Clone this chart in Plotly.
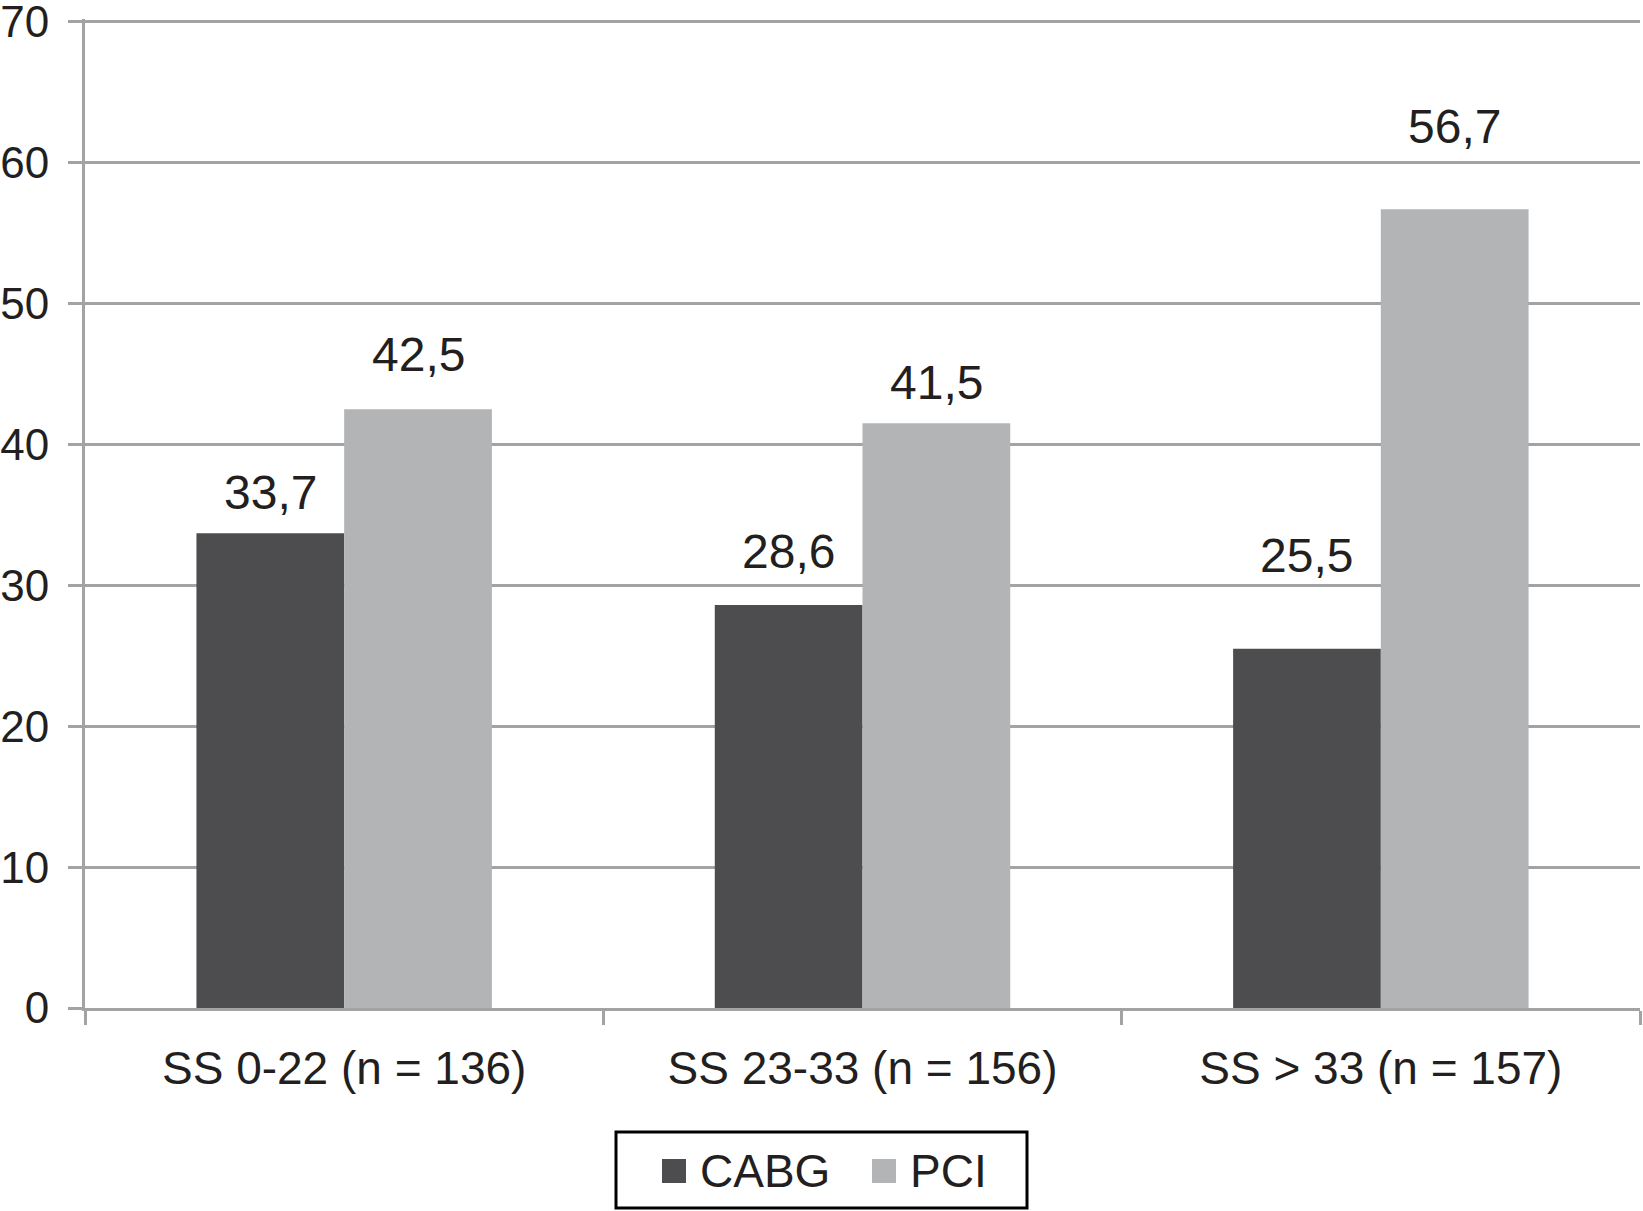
import plotly.graph_objects as go

# ---- data ----
categories = ["SS 0-22 (n = 136)", "SS 23-33 (n = 156)", "SS > 33 (n = 157)"]
cabg_values = [33.7, 28.6, 25.5]
pci_values = [42.5, 41.5, 56.7]
series_names = ["CABG", "PCI"]
y_tick_values = [0, 10, 20, 30, 40, 50, 60, 70]

# ---- style ----
W, H = 1643, 1211
Y_TOP = 70.2                      # a hair above the last tick so its gridline is kept
PX_PER_UNIT = 986 / 70            # vertical scale of the original
PLOT_BOTTOM = 1008
ML, MR = 85, 3
MB = H - PLOT_BOTTOM
MT = round(PLOT_BOTTOM - Y_TOP * PX_PER_UNIT)
FONT = "Liberation Sans, Arial, Helvetica, sans-serif"
TEXT = "#231f20"
GRID = "#a3a3a3"
COL_CABG = "#4d4d4f"
COL_PCI = "#b3b4b6"
BARGAP = 0.43
# pixel lift of each value label above its bar (label placement as in original)
lift_cabg = [23, 36, 76]
lift_pci = [37, 23, 65]

plot_w = W - ML - MR
plot_h = H - MT - MB
bar_px = (1 - BARGAP) * plot_w / len(categories) / 2


def px_x(p):
    return (p - ML) / plot_w


def px_y(p):
    return (H - MB - p) / plot_h


def fmt(v):
    return f"{v:.1f}".replace(".", ",")


fig = go.Figure()
fig.add_trace(go.Bar(x=categories, y=cabg_values, name=series_names[0],
                     marker=dict(color=COL_CABG, line=dict(width=0)), showlegend=False))
fig.add_trace(go.Bar(x=categories, y=pci_values, name=series_names[1],
                     marker=dict(color=COL_PCI, line=dict(width=0)), showlegend=False))

annotations = []
for vals, lifts, shift in ((cabg_values, lift_cabg, -bar_px / 2),
                           (pci_values, lift_pci, bar_px / 2)):
    for c, v, lf in zip(categories, vals, lifts):
        annotations.append(dict(x=c, y=v, xref="x", yref="y", text=fmt(v),
                                showarrow=False, xshift=shift, yshift=lf - 11,
                                yanchor="bottom", xanchor="center",
                                font=dict(family=FONT, size=48, color=TEXT)))

# ---- legend (drawn box with squares and names) ----
box = (616, 1132, 1027, 1208)
shapes = [dict(type="rect", xref="paper", yref="paper",
               x0=px_x(box[0]), x1=px_x(box[2]), y0=px_y(box[3]), y1=px_y(box[1]),
               line=dict(color="black", width=3), fillcolor="white")]
legend_items = [(series_names[0], COL_CABG, 662), (series_names[1], COL_PCI, 872)]
for name, col, sx in legend_items:
    shapes.append(dict(type="rect", xref="paper", yref="paper",
                       x0=px_x(sx), x1=px_x(sx + 24), y0=px_y(1183), y1=px_y(1159),
                       line=dict(width=0), fillcolor=col))
    annotations.append(dict(x=px_x(sx + 36), y=px_y(1171), xref="paper", yref="paper",
                            text=name, showarrow=False, xanchor="left", yanchor="middle",
                            font=dict(family=FONT, size=46, color=TEXT)))

fig.update_layout(
    width=W, height=H,
    margin=dict(l=ML, r=MR, t=MT, b=MB, pad=0, autoexpand=False),
    paper_bgcolor="white", plot_bgcolor="white",
    barmode="group", bargap=BARGAP, bargroupgap=0,
    font=dict(family=FONT, size=46, color=TEXT),
    shapes=shapes, annotations=annotations,
    showlegend=False,
)
fig.update_xaxes(
    automargin=False,
    showline=True, linecolor=GRID, linewidth=3,
    ticks="outside", tickson="boundaries", ticklen=14, tickwidth=3, tickcolor=GRID,
    tickfont=dict(family=FONT, size=46, color=TEXT), ticklabelstandoff=18,
    showgrid=False,
)
fig.update_yaxes(
    automargin=False, ticklabeloverflow="allow",
    range=[0, Y_TOP], tickvals=y_tick_values, showgrid=True, gridcolor=GRID, gridwidth=3,
    showline=True, linecolor=GRID, linewidth=3, zeroline=False,
    ticks="outside", ticklen=14, tickwidth=3, tickcolor=GRID,
    tickfont=dict(family=FONT, size=44, color=TEXT), ticklabelstandoff=10,
)

fig.write_html("out.html", config={"displayModeBar": False},
               post_script="document.body.style.margin='0px';")
